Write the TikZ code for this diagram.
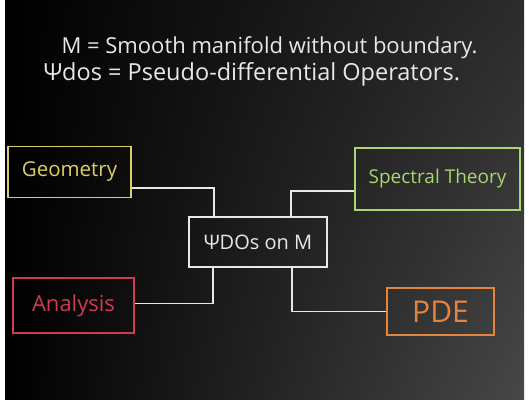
\documentclass[tikz,border=0pt]{standalone}
\usepackage{fontspec}
\setmainfont{Open Sans}
\usepackage{tikz}
\usetikzlibrary{positioning,shadings}

\definecolor{chalkwhite}{RGB}{232,232,228}
\definecolor{chalkyellow}{RGB}{222,206,98}
\definecolor{chalkgreen}{RGB}{168,214,112}
\definecolor{chalkred}{RGB}{206,58,82}
\definecolor{chalkorange}{RGB}{228,132,62}

\begin{document}
\begin{tikzpicture}[x=1pt, y=-1pt,
        topic/.style = {draw, line width=1.6pt, inner sep=0pt},
        wire/.style = {draw=chalkwhite, line width=1.6pt},
        note/.style = {anchor=base west, text=chalkwhite}]
    \useasboundingbox (0,0) rectangle (529,399);
    % the board
    \shade[upper left=black, lower left=black, upper right=black!83!white, lower right=black!72!white]
        (5,0) rectangle (524,399);

    \node [note, font=\fontsize{22}{24}\selectfont] (mdef) at (58,53) {M = Smooth manifold without boundary.};
    \node [note, font=\fontsize{23.5}{26}\selectfont] (pdef) at (40,80) {Ψdos = Pseudo-differential Operators.};

    \node [topic, draw=chalkwhite, text=chalkwhite, minimum width=138pt, minimum height=50pt,
           font=\fontsize{20}{24}\selectfont] (psi) at (258,242) {ΨDOs on M};
    \node [topic, draw=chalkyellow, text=chalkyellow, minimum width=123pt, minimum height=51pt,
           font=\fontsize{20.5}{24}\selectfont] (geo) at (69.5,172) {Geometry};
    \node [topic, draw=chalkgreen, text=chalkgreen, minimum width=165pt, minimum height=62pt,
           font=\fontsize{19}{24}\selectfont] (spec) at (437.5,179) {Spectral Theory};
    \node [topic, draw=chalkred, text=chalkred, minimum width=121pt, minimum height=55pt,
           font=\fontsize{22}{24}\selectfont] (ana) at (73.5,305.5) {Analysis};
    \node [topic, draw=chalkorange, text=chalkorange, minimum width=107pt, minimum height=47pt,
           font=\fontsize{30}{32}\selectfont] (pde) at (440.5,311.5) {PDE};

    % wires into the middle box
    \draw [wire] ([yshift=-16pt]geo.east) -| ([xshift=-44pt]psi.north);
    \draw [wire] ([yshift=-12pt]spec.west) -| ([xshift=33pt]psi.north);
    \draw [wire] ([yshift=2pt]ana.east) -| ([xshift=-45pt]psi.south);
    \draw [wire] ([xshift=34pt]psi.south) |- (pde.west);
\end{tikzpicture}
\end{document}
